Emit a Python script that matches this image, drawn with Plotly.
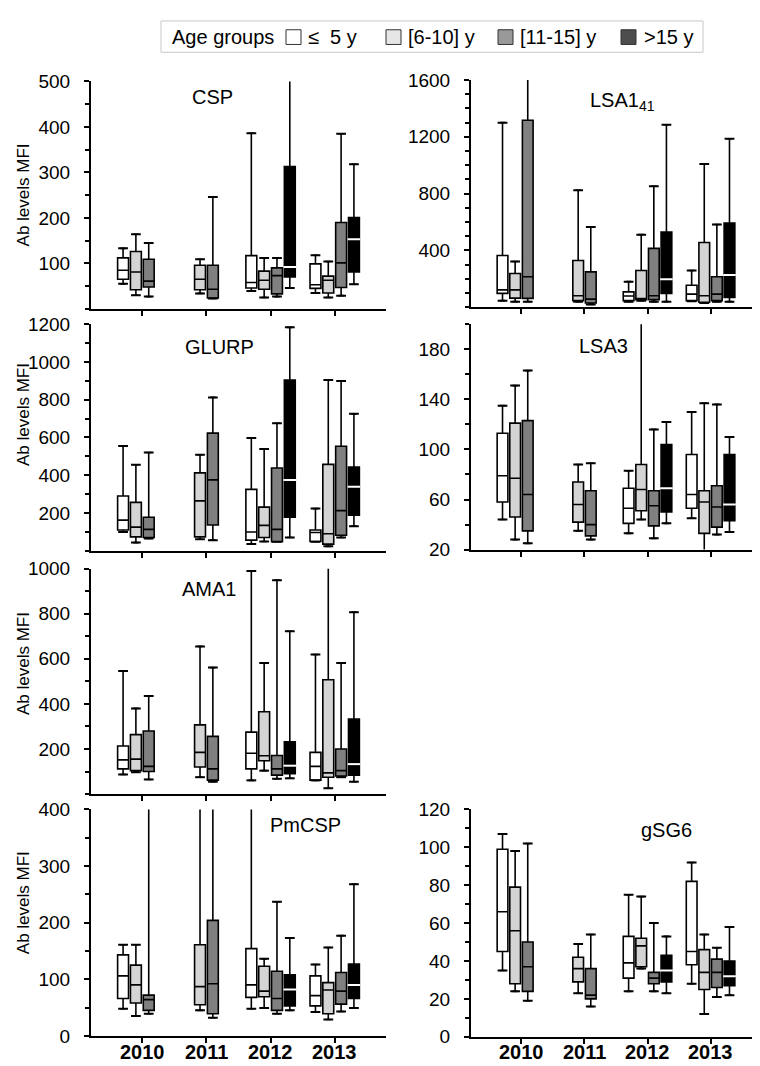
import plotly.graph_objects as go

YEARS = ["2010", "2011", "2012", "2013"]
GROUPS = ["≤  5 y", "[6-10] y", "[11-15] y", ">15 y"]
BOX_COLORS = ["#ffffff", "#d4d4d4", "#808080", "#000000"]
LEGEND_COLORS = ["#ffffff", "#e6e6e6", "#999999", "#4d4d4d"]

# rows: (year, age group index, lower whisker, q1, median, q3, upper whisker)
CSP = [
    ("2010", 0, 55, 65, 85, 112, 133), ("2010", 1, 30, 42, 81, 126, 164), ("2010", 2, 27, 48, 61, 109, 145),
    ("2011", 1, 34, 42, 65, 96, 109), ("2011", 2, 23, 24, 43, 96, 246),
    ("2012", 0, 39, 46, 58, 117, 386), ("2012", 1, 25, 43, 63, 83, 112), ("2012", 2, 27, 33, 73, 90, 112),
    ("2012", 3, 46, 70, 92, 313, 560),
    ("2013", 0, 35, 45, 53, 99, 118), ("2013", 1, 25, 35, 63, 72, 104), ("2013", 2, 29, 47, 101, 190, 385),
    ("2013", 3, 54, 81, 153, 201, 318),
]
LSA1 = [
    ("2010", 0, 46, 97, 122, 364, 1300), ("2010", 1, 39, 64, 122, 237, 322), ("2010", 2, 39, 62, 214, 1317, 1800),
    ("2011", 1, 39, 46, 81, 329, 824), ("2011", 2, 19, 30, 57, 249, 564),
    ("2012", 0, 39, 46, 79, 108, 180), ("2012", 1, 46, 53, 57, 258, 511), ("2012", 2, 39, 53, 81, 414, 852),
    ("2012", 3, 39, 97, 196, 530, 1285),
    ("2013", 0, 42, 46, 92, 154, 258), ("2013", 1, 30, 35, 81, 456, 1008), ("2013", 2, 39, 46, 92, 214, 582),
    ("2013", 3, 39, 69, 226, 592, 1186),
]
GLURP = [
    ("2010", 0, 99, 110, 162, 290, 555), ("2010", 1, 43, 73, 125, 256, 455), ("2010", 2, 65, 70, 113, 177, 520),
    ("2011", 1, 61, 73, 264, 412, 508), ("2011", 2, 56, 136, 375, 623, 812),
    ("2012", 0, 35, 56, 99, 325, 597), ("2012", 1, 49, 70, 134, 231, 539), ("2012", 2, 47, 47, 113, 438, 675),
    ("2012", 3, 70, 177, 374, 904, 1183),
    ("2013", 0, 47, 49, 96, 110, 223), ("2013", 1, 23, 35, 90, 457, 904), ("2013", 2, 70, 82, 212, 553, 899),
    ("2013", 3, 130, 188, 339, 443, 725),
]
LSA3 = [
    ("2010", 0, 44, 58, 79, 113, 135), ("2010", 1, 28, 46, 77, 121, 151), ("2010", 2, 25, 35, 64, 123, 163),
    ("2011", 1, 35, 42, 56, 74, 88), ("2011", 2, 28, 31, 40, 67, 89),
    ("2012", 0, 33, 41, 53, 69, 83), ("2012", 1, 44, 51, 68, 88, 230), ("2012", 2, 29, 39, 55, 67, 116),
    ("2012", 3, 41, 50, 69, 104, 122),
    ("2013", 0, 45, 53, 64, 96, 130), ("2013", 1, 10, 33, 58, 67, 137), ("2013", 2, 32, 38, 54, 71, 136),
    ("2013", 3, 34, 43, 56, 96, 110),
]
AMA1 = [
    ("2010", 0, 87, 112, 152, 213, 546), ("2010", 1, 97, 104, 155, 264, 380), ("2010", 2, 65, 100, 123, 280, 435),
    ("2011", 1, 75, 120, 185, 307, 655), ("2011", 2, 55, 62, 112, 256, 561),
    ("2012", 0, 61, 112, 181, 275, 990), ("2012", 1, 104, 148, 170, 365, 582), ("2012", 2, 68, 84, 112, 171, 949),
    ("2012", 3, 70, 91, 126, 232, 722),
    ("2013", 0, 61, 62, 123, 185, 619), ("2013", 1, 26, 75, 94, 507, 1100), ("2013", 2, 75, 80, 104, 200, 582),
    ("2013", 3, 55, 84, 133, 333, 807),
]
PMCSP = [
    ("2010", 0, 48, 66, 106, 143, 161), ("2010", 1, 35, 58, 90, 125, 161), ("2010", 2, 39, 45, 64, 72, 500),
    ("2011", 1, 45, 55, 87, 161, 500), ("2011", 2, 32, 39, 92, 204, 500),
    ("2012", 0, 48, 68, 90, 154, 480), ("2012", 1, 49, 69, 79, 123, 136), ("2012", 2, 39, 45, 66, 114, 237),
    ("2012", 3, 45, 53, 82, 108, 173),
    ("2013", 0, 42, 53, 71, 106, 126), ("2013", 1, 29, 39, 81, 94, 156), ("2013", 2, 43, 56, 79, 112, 177),
    ("2013", 3, 49, 66, 90, 127, 268),
]
GSG6 = [
    ("2010", 0, 35, 45, 66, 99, 107), ("2010", 1, 24, 28, 56, 79, 98), ("2010", 2, 19, 24, 37, 50, 102),
    ("2011", 1, 23, 29, 36, 42, 49), ("2011", 2, 16, 20, 22, 36, 54),
    ("2012", 0, 24, 31, 39, 53, 75), ("2012", 1, 36, 37, 48, 52, 74), ("2012", 2, 24, 28, 31, 34, 60),
    ("2012", 3, 23, 29, 35, 43, 53),
    ("2013", 0, 28, 38, 45, 82, 92), ("2013", 1, 12, 25, 34, 46, 54), ("2013", 2, 21, 26, 34, 41, 47),
    ("2013", 3, 22, 27, 32, 40, 58),
]

CSP_TICKS = [100, 200, 300, 400, 500]
LSA1_TICKS = [400, 800, 1200, 1600]
GLURP_TICKS = [200, 400, 600, 800, 1000, 1200]
LSA3_TICKS = [20, 60, 100, 140, 180]
AMA1_TICKS = [200, 400, 600, 800, 1000]
PMCSP_TICKS = [0, 100, 200, 300, 400]
GSG6_TICKS = [0, 20, 40, 60, 80, 100, 120]

W, H = 760, 1066
FONT = "Arial, Liberation Sans, sans-serif"

# layout of panels (pixel boxes)
PANELS = [
    dict(title="CSP", data=CSP, yr=[0, 500], ticks=CSP_TICKS, minor=50, xpx=(83, 378), ypx=(64.7, 296.7),
         tpos=(204, 81), ytitle=181, years=False),
    dict(title="LSA1<sub>41</sub>", data=LSA1, yr=[0, 1600], ticks=LSA1_TICKS, minor=100, xpx=(463, 753),
         ypx=(63.3, 295), tpos=(614, 85), ytitle=None, years=False),
    dict(title="GLURP", data=GLURP, yr=[0, 1200], ticks=GLURP_TICKS, minor=100, xpx=(83, 378),
         ypx=(312.3, 543.4), tpos=(212, 336), ytitle=405, years=False),
    dict(title="LSA3", data=LSA3, yr=[20, 200], ticks=LSA3_TICKS, minor=20, xpx=(463, 753),
         ypx=(312.4, 542.3), tpos=(595, 335), ytitle=None, years=False),
    dict(title="AMA1", data=AMA1, yr=[0, 1000], ticks=AMA1_TICKS, minor=100, xpx=(83, 378),
         ypx=(561.7, 791.7), tpos=(201, 582), ytitle=659, years=False),
    dict(title="PmCSP", data=PMCSP, yr=[0, 400], ticks=PMCSP_TICKS, minor=50, xpx=(83, 378),
         ypx=(807.3, 1038.3), tpos=(297, 823), ytitle=903, years=True),
    dict(title="gSG6", data=GSG6, yr=[0, 120], ticks=GSG6_TICKS, minor=10, xpx=(463, 753),
         ypx=(807.3, 1039.3), tpos=(658, 828), ytitle=None, years=True),
]

XRANGE = [-0.8, 3.8]
SLOT = 0.2
BOXW = 0.17
YEAR_LABEL_Y = 1055


def fx(px):
    return px / W


def fy(py):
    return 1 - py / H


fig = go.Figure()
layout = dict(width=W, height=H, margin=dict(l=0, r=0, t=0, b=0), autosize=False,
              paper_bgcolor="white", plot_bgcolor="white", showlegend=False,
              font=dict(family=FONT, color="black"))
annotations = []
shapes = []

for k, p in enumerate(PANELS, start=1):
    xa, ya = f"x{k}", f"y{k}"
    for g in range(4):
        rows = [r for r in p["data"] if r[1] == g]
        if not rows:
            continue
        xs = [YEARS.index(r[0]) + (g - 1.5) * SLOT for r in rows]
        lo = [r[2] for r in rows]
        q1 = [r[3] for r in rows]
        med = [r[4] for r in rows]
        q3 = [r[5] for r in rows]
        hi = [r[6] for r in rows]
        fig.add_trace(go.Box(x=xs, q1=q1, median=med, q3=q3, lowerfence=lo, upperfence=hi,
                             width=BOXW, fillcolor=BOX_COLORS[g], line=dict(color="black", width=1.6),
                             boxpoints=False, name=GROUPS[g], xaxis=xa, yaxis=ya, hoverinfo="skip"))
        fig.add_trace(go.Scatter(x=xs + xs, y=lo + hi, mode="markers",
                                 marker=dict(symbol="line-ew", size=7, line=dict(width=2, color="black")),
                                 xaxis=xa, yaxis=ya, hoverinfo="skip"))
        if g == 3:
            fig.add_trace(go.Scatter(x=xs, y=med, mode="markers",
                                     marker=dict(symbol="line-ew", size=9, line=dict(width=2, color="white")),
                                     xaxis=xa, yaxis=ya, hoverinfo="skip"))
    sfx = "" if k == 1 else str(k)
    layout["xaxis" + sfx] = dict(
        domain=[fx(p["xpx"][0]), fx(p["xpx"][1])], range=XRANGE, anchor=ya,
        showline=True, linewidth=2, linecolor="black", ticks="outside", ticklen=5, tickwidth=1.5,
        tickcolor="black", tickmode="array", tickvals=[0, 1, 2, 3], showticklabels=False,
        showgrid=False, zeroline=False)
    layout["yaxis" + sfx] = dict(
        domain=[fy(p["ypx"][1]), fy(p["ypx"][0])], range=p["yr"], anchor=xa,
        showline=True, linewidth=2, linecolor="black", ticks="outside", ticklen=5, tickwidth=1.5,
        tickcolor="black", tickmode="array", tickvals=p["ticks"],
        tickfont=dict(size=19, family=FONT, color="black"), showgrid=False, zeroline=False,
        ticklabelstandoff=10,
        minor=dict(tickmode="linear", tick0=0, dtick=p["minor"], ticks="outside", ticklen=4,
                   tickwidth=1.5, tickcolor="black", showgrid=False))
    if p["years"]:
        x0, x1 = p["xpx"]
        for i, yname in enumerate(YEARS):
            xp = x0 + (i - XRANGE[0]) / (XRANGE[1] - XRANGE[0]) * (x1 - x0)
            annotations.append(dict(text=f"<b>{yname}</b>", x=fx(xp), y=fy(YEAR_LABEL_Y), xref="paper",
                                    yref="paper", xanchor="center", yanchor="middle", showarrow=False,
                                    font=dict(size=20, family=FONT, color="black")))
    annotations.append(dict(text=p["title"], x=fx(p["tpos"][0]), y=fy(p["tpos"][1]), xref="paper",
                            yref="paper", xanchor="center", yanchor="middle", showarrow=False,
                            font=dict(size=20, family=FONT, color="black")))
    if p["ytitle"] is not None:
        annotations.append(dict(text="Ab levels MFI", x=fx(15), y=fy(p["ytitle"]), xref="paper",
                                yref="paper", xanchor="center", yanchor="middle", showarrow=False,
                                textangle=-90, font=dict(size=17, family=FONT, color="black")))

# legend box
shapes.append(dict(type="rect", xref="paper", yref="paper", x0=fx(153), x1=fx(695), y0=fy(35), y1=fy(3),
                   line=dict(color="#c8c8c8", width=1), fillcolor="white", layer="below"))
annotations.append(dict(text="Age groups", x=fx(162), y=fy(19.5), xref="paper", yref="paper",
                        xanchor="left", yanchor="middle", showarrow=False,
                        font=dict(size=20, family=FONT, color="black")))
SQ_X = [278, 378, 490, 613]
TX_X = [298, 398, 510, 634]
for g in range(4):
    shapes.append(dict(type="rect", xref="paper", yref="paper", x0=fx(SQ_X[g]), x1=fx(SQ_X[g] + 15),
                       y0=fy(27), y1=fy(12), line=dict(color="#333333", width=1),
                       fillcolor=LEGEND_COLORS[g]))
    annotations.append(dict(text=GROUPS[g], x=fx(TX_X[g]), y=fy(19.5), xref="paper", yref="paper",
                            xanchor="left", yanchor="middle", showarrow=False,
                            font=dict(size=20, family=FONT, color="black")))

layout["annotations"] = annotations
layout["shapes"] = shapes
fig.update_layout(**layout)
fig.write_html("out.html")
